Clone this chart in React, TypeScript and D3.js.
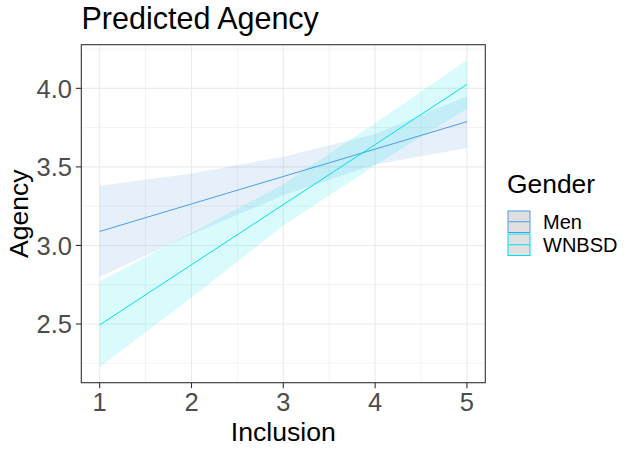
import React from "react";
import * as d3 from "d3";

const xValues = [1, 2, 3, 4, 5];
const xTicks = [1, 2, 3, 4, 5];
const yTicks = [2.5, 3.0, 3.5, 4.0];
const groups = ["Men", "WNBSD"];
const menFit = [3.089, 3.264, 3.439, 3.613, 3.788];
const menLow = [2.8, 3.07, 3.32, 3.515, 3.62];
const menHigh = [3.38, 3.458, 3.565, 3.71, 3.95];
const wFit = [2.494, 2.877, 3.26, 3.642, 4.025];
const wLow = [2.224, 2.668, 3.127, 3.51, 3.87];
const wHigh = [2.77, 3.08, 3.39, 3.777, 4.18];

const W = 636, H = 453;
const panel = { left: 81.3, right: 485.3, top: 44.7, bottom: 382.7 };
const lineColors = ["#4a9de8", "#00e0ec"];
const fillColors = ["#589be4", "#00e6e6"];
const font = "'Liberation Sans', Arial, sans-serif";

export default function App() {
  const xExt = d3.extent(xValues) as [number, number];
  const xr = xExt[1] - xExt[0];
  const x = d3.scaleLinear().domain([xExt[0] - 0.05 * xr, xExt[1] + 0.05 * xr]).range([panel.left, panel.right]);
  const allY = [...menLow, ...menHigh, ...wLow, ...wHigh];
  const yMin = d3.min(allY)!, yMax = d3.max(allY)!;
  const yr = yMax - yMin;
  const y = d3.scaleLinear().domain([yMin - 0.05 * yr, yMax + 0.05 * yr]).range([panel.bottom, panel.top]);

  const series = [
    { fit: menFit, low: menLow, high: menHigh },
    { fit: wFit, low: wLow, high: wHigh },
  ];
  const area = d3.area<number>().x((d, i) => x(xValues[i]));
  const line = d3.line<number>().x((d, i) => x(xValues[i])).y((d) => y(d));

  const [d0, d1] = y.domain();
  const minorY: number[] = [];
  for (let v = Math.ceil(d0 * 4) / 4; v <= d1; v += 0.25) {
    if (Math.abs(v * 2 - Math.round(v * 2)) > 1e-6) minorY.push(v);
  }
  const minorX = [1.5, 2.5, 3.5, 4.5];

  return (
    <svg width={W} height={H} style={{ position: "absolute", left: 0, top: 0, fontFamily: font }}>
      <rect x={0} y={0} width={W} height={H} fill="#fff" />
      {minorY.map((v) => (
        <line key={"my" + v} x1={panel.left} x2={panel.right} y1={y(v)} y2={y(v)} stroke="#ebebeb" strokeWidth={0.6} />
      ))}
      {minorX.map((v) => (
        <line key={"mx" + v} y1={panel.top} y2={panel.bottom} x1={x(v)} x2={x(v)} stroke="#ebebeb" strokeWidth={0.6} />
      ))}
      {yTicks.map((v) => (
        <line key={"gy" + v} x1={panel.left} x2={panel.right} y1={y(v)} y2={y(v)} stroke="#ebebeb" strokeWidth={1.1} />
      ))}
      {xTicks.map((v) => (
        <line key={"gx" + v} y1={panel.top} y2={panel.bottom} x1={x(v)} x2={x(v)} stroke="#ebebeb" strokeWidth={1.1} />
      ))}
      {series.map((s, gi) => (
        <path
          key={"r" + gi}
          d={area.y0((d, i) => y(s.low[i])).y1((d, i) => y(s.high[i]))(s.fit) || ""}
          fill={fillColors[gi]}
          fillOpacity={0.15}
        />
      ))}
      {series.map((s, gi) => (
        <path key={"l" + gi} d={line(s.fit) || ""} fill="none" stroke={lineColors[gi]} strokeWidth={1} />
      ))}
      <rect x={panel.left} y={panel.top} width={panel.right - panel.left} height={panel.bottom - panel.top} fill="none" stroke="#333" strokeWidth={1.1} />
      {yTicks.map((v) => (
        <g key={"ty" + v}>
          <line x1={panel.left - 5.5} x2={panel.left} y1={y(v)} y2={y(v)} stroke="#333" strokeWidth={1.1} />
          <text x={panel.left - 9.3} y={y(v)} dy="0.36em" textAnchor="end" fontSize={25.5} fill="#4d4d4d">
            {d3.format(".1f")(v)}
          </text>
        </g>
      ))}
      {xTicks.map((v) => (
        <g key={"tx" + v}>
          <line y1={panel.bottom} y2={panel.bottom + 5.5} x1={x(v)} x2={x(v)} stroke="#333" strokeWidth={1.1} />
          <text x={x(v)} y={411} textAnchor="middle" fontSize={25.5} fill="#4d4d4d">
            {v}
          </text>
        </g>
      ))}
      <text x={(panel.left + panel.right) / 2} y={441} textAnchor="middle" fontSize={26.6} fill="#000">
        Inclusion
      </text>
      <text transform={`translate(28,${(panel.top + panel.bottom) / 2}) rotate(-90)`} textAnchor="middle" fontSize={26.6} fill="#000">
        Agency
      </text>
      <text x={81.5} y={28.5} fontSize={30.5} fill="#000">
        Predicted Agency
      </text>
      <text x={507} y={193} fontSize={26.4} fill="#000">
        Gender
      </text>
      {groups.map((g, gi) => (
        <g key={"lg" + g} transform={`translate(508,${211 + gi * 23})`}>
          <rect x={0} y={0} width={22} height={21.5} fill="#e0e0e0" stroke={lineColors[gi]} strokeWidth={1} />
          <line x1={0.5} x2={21.5} y1={10.75} y2={10.75} stroke={lineColors[gi]} strokeWidth={1} />
          <text x={35} y={10.75} dy="0.36em" fontSize={20} fill="#000">
            {g}
          </text>
        </g>
      ))}
    </svg>
  );
}
